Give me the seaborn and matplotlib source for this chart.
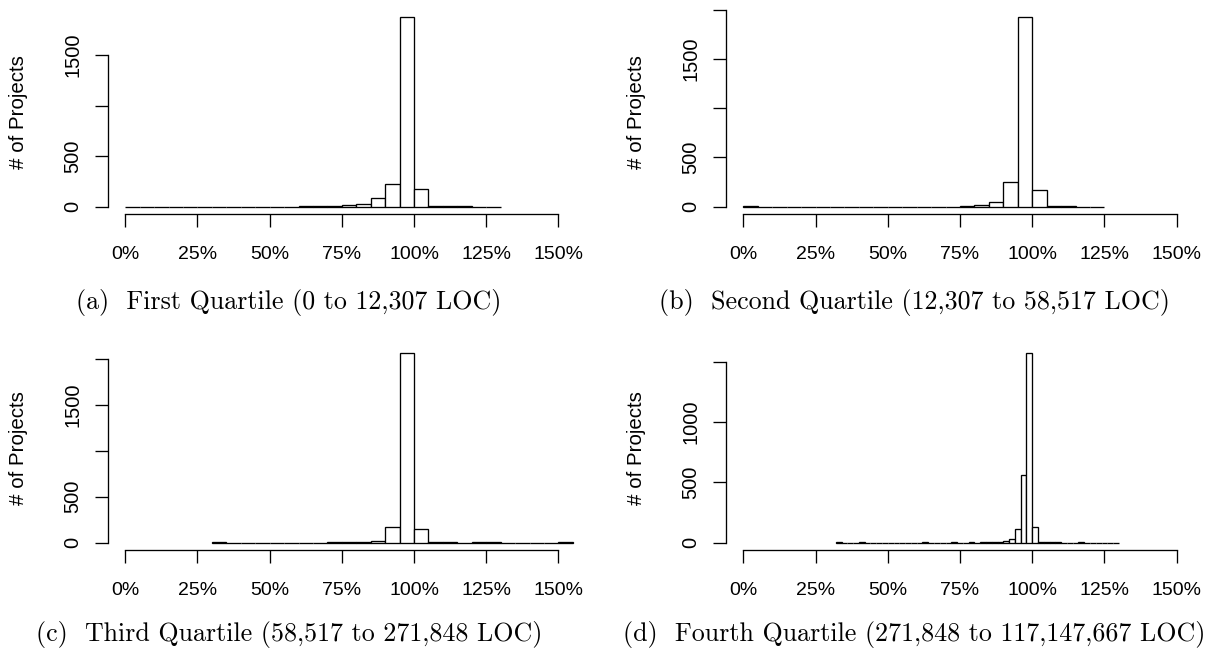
import numpy as np
import pandas as pd
import matplotlib
matplotlib.use("Agg")
import matplotlib.pyplot as plt
import seaborn as sns

# ---------------- data ----------------
q1_start, q1_width = 0, 5
q1_counts = [2, 1, 1, 2, 2, 2, 2, 1, 2, 1, 2, 2, 3, 4, 6, 13, 30, 89, 225, 1876, 172, 12, 4, 3, 1, 2]

q2_start, q2_width = 0, 5
q2_counts = [3, 2, 1, 1, 2, 1, 1, 1, 1, 2, 2, 2, 1, 2, 2, 4, 15, 44, 254, 1920, 172, 6, 3, 2, 2]

q3_start, q3_width = 30, 5
q3_counts = [2, 1, 1, 1, 1, 1, 1, 1, 2, 2, 4, 18, 175, 2065, 153, 4, 3, 1, 2, 2, 1, 1, 1, 1, 2]

q4_start, q4_width = 32, 2
q4_counts = [2, 1, 1, 1, 2, 1, 1, 1, 1, 1, 1, 1, 1, 1, 1,
             2, 1, 1, 1, 1, 2, 1, 1, 2, 1, 2, 3, 3, 5, 12,
             30, 114, 560, 1570, 128, 6, 3, 2, 2, 1, 1, 1, 2, 1, 1,
             1, 1, 1, 1]

x_ticks = [0, 25, 50, 75, 100, 125, 150]
x_tick_labels = ["0%", "25%", "50%", "75%", "100%", "125%", "150%"]

q1_yticks = [0, 500, 1000, 1500]
q1_ylabels = ["0", "500", "", "1500"]
q2_yticks = [0, 500, 1000, 1500, 2000]
q2_ylabels = ["0", "500", "", "1500", ""]
q3_yticks = [0, 500, 1000, 1500, 2000]
q3_ylabels = ["0", "500", "", "1500", ""]
q4_yticks = [0, 500, 1000, 1500]
q4_ylabels = ["0", "500", "1000", ""]

captions = [
    "(a)  First Quartile (0 to 12,307 LOC)",
    "(b)  Second Quartile (12,307 to 58,517 LOC)",
    "(c)  Third Quartile (58,517 to 271,848 LOC)",
    "(d)  Fourth Quartile (271,848 to 117,147,667 LOC)",
]

# ---------------- styling ----------------
sns.set_theme(style="white")
plt.rcParams["font.family"] = ["Liberation Sans", "DejaVu Sans"]

W, H = 1205, 649
fig = plt.figure(figsize=(W / 100, H / 100), dpi=100)
fig.patch.set_facecolor("white")


def pos(l, t, r, b):
    return [l / W, 1 - b / H, (r - l) / W, (b - t) / H]


panels = [
    (q1_start, q1_width, q1_counts, q1_yticks, q1_ylabels, pos(108, 9.5, 575.7, 214.3)),
    (q2_start, q2_width, q2_counts, q2_yticks, q2_ylabels, pos(726, 9.5, 1194, 214.3)),
    (q3_start, q3_width, q3_counts, q3_yticks, q3_ylabels, pos(108, 345.7, 575.7, 550.2)),
    (q4_start, q4_width, q4_counts, q4_yticks, q4_ylabels, pos(726, 345.7, 1194, 550.2)),
]

LW = 0.95
TICK_LEN = 9.4
for start, width, counts, yticks, ylabels, rect in panels:
    ax = fig.add_axes(rect)
    n = len(counts)
    edges = [start + width * i for i in range(n + 1)]
    df = pd.DataFrame({
        "pct": [start + width * (i + 0.5) for i in range(n)],
        "n": [float(c) for c in counts],
    })
    sns.histplot(data=df, x="pct", weights="n", bins=edges, ax=ax, stat="count",
                 color="white", edgecolor="black", linewidth=LW, alpha=1.0)
    ymax = max(counts)
    ax.set_xlim(-6, 156)
    ax.set_ylim(-0.04 * ymax, 1.04 * ymax)
    ax.set_xticks(x_ticks, x_tick_labels)
    ax.set_yticks(yticks, ylabels)
    for s in ["top", "right"]:
        ax.spines[s].set_visible(False)
    for s in ["left", "bottom"]:
        ax.spines[s].set_color("black")
        ax.spines[s].set_linewidth(LW)
    ax.spines["bottom"].set_bounds(0, 150)
    ax.spines["left"].set_bounds(yticks[0], yticks[-1])
    ax.tick_params(axis="x", direction="out", length=TICK_LEN, width=LW, color="black",
                   pad=13.5, labelsize=14, labelcolor="black", bottom=True)
    ax.tick_params(axis="y", direction="out", length=TICK_LEN, width=LW, color="black",
                   pad=9, labelsize=14.5, labelcolor="black", left=True)
    for lbl in ax.get_yticklabels():
        lbl.set_rotation(90)
        lbl.set_va("center")
    ax.set_ylabel("# of Projects", fontsize=14.8, color="black")
    ax.yaxis.set_label_coords(-0.171, 0.5)
    ax.set_xlabel("")
    ax.grid(False)
    ax.set_facecolor("white")

cap_pos = [(289, 303), (914, 303), (289, 635), (914, 635)]
for (cx, cy), text in zip(cap_pos, captions):
    fig.text(cx / W, 1 - cy / H, text, ha="center", va="center",
             fontsize=18.7, family="cmr10", color="black")

fig.savefig("out.png", dpi=100)
